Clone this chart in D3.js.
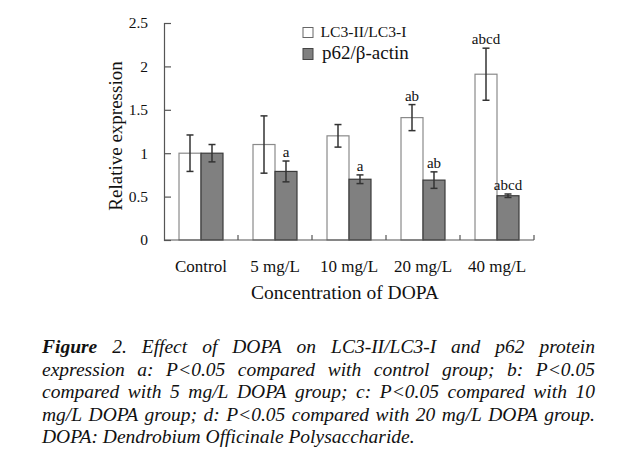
<!DOCTYPE html>
<html><head><meta charset="utf-8">
<script src="https://cdn.jsdelivr.net/npm/d3@7/dist/d3.min.js"></script>
<style>
body{margin:0;background:#fff;}
svg{display:block;}
text{font-family:"Liberation Serif","Times New Roman",serif;fill:#111;}
</style></head><body>
<svg id="c" width="628" height="470"></svg>
<script>
const categories = ["Control","5 mg/L","10 mg/L","20 mg/L","40 mg/L"];
const seriesNames = ["LC3-II/LC3-I","p62/β-actin"];
const lc3Values = [1.00, 1.10, 1.20, 1.41, 1.91];
const lc3Errors = [0.21, 0.33, 0.13, 0.15, 0.30];
const p62Values = [1.00, 0.79, 0.70, 0.69, 0.51];
const p62Errors = [0.10, 0.12, 0.05, 0.095, 0.02];
const lc3Labels = ["", "", "", "ab", "abcd"];
const p62Labels = ["", "a", "a", "ab", "abcd"];
const yTicks = [0, 0.5, 1, 1.5, 2, 2.5];
const yTickLabels = ["0","0.5","1","1.5","2","2.5"];
const captionLines = [
  [{t:"Figure",b:true},{t:"2."},{t:"Effect"},{t:"of"},{t:"DOPA"},{t:"on"},{t:"LC3-II/LC3-I"},{t:"and"},{t:"p62"},{t:"protein"}],
  "expression a: P<0.05 compared with control group; b: P<0.05",
  "compared with 5 mg/L DOPA group; c: P<0.05 compared with 10",
  "mg/L DOPA group; d: P<0.05 compared with 20 mg/L DOPA group.",
  "DOPA: Dendrobium Officinale Polysaccharide."
];

const svg = d3.select("#c");
const L = 164, R = 534, T = 23, B = 240;
const x0 = d3.scaleBand().domain(categories).range([L, R]);
const x1 = d3.scaleBand().domain(seriesNames).range([0, x0.bandwidth()]).paddingOuter(0.682);
const y = d3.scaleLinear().domain([0, 2.5]).range([B, T]);

const data = categories.map((c,i)=>[
  {c, s:seriesNames[0], v:lc3Values[i], e:lc3Errors[i], lab:lc3Labels[i]},
  {c, s:seriesNames[1], v:p62Values[i], e:p62Errors[i], lab:p62Labels[i]}
]).flat();

const fills = {"LC3-II/LC3-I":"#ffffff","p62/β-actin":"#808080"};
const strokes = {"LC3-II/LC3-I":"#8a8a8a","p62/β-actin":"#3a3a3a"};

// bars
svg.append("g").selectAll("rect").data(data).join("rect")
  .attr("x", d=>x0(d.c)+x1(d.s))
  .attr("y", d=>y(d.v))
  .attr("width", x1.bandwidth())
  .attr("height", d=>B - y(d.v))
  .attr("fill", d=>fills[d.s])
  .attr("stroke", d=>strokes[d.s])
  .attr("stroke-width", 1.2);

// error bars
const eg = svg.append("g").attr("stroke","#333").attr("stroke-width",1.5);
data.forEach(d=>{
  const cx = x0(d.c)+x1(d.s)+x1.bandwidth()/2;
  eg.append("line").attr("x1",cx).attr("x2",cx).attr("y1",y(d.v+d.e)).attr("y2",y(d.v-d.e));
  eg.append("line").attr("x1",cx-3.5).attr("x2",cx+3.5).attr("y1",y(d.v+d.e)).attr("y2",y(d.v+d.e));
  eg.append("line").attr("x1",cx-3.5).attr("x2",cx+3.5).attr("y1",y(d.v-d.e)).attr("y2",y(d.v-d.e));
});

// significance labels
svg.append("g").selectAll("text").data(data.filter(d=>d.lab)).join("text")
  .attr("x", d=>x0(d.c)+x1(d.s)+x1.bandwidth()/2)
  .attr("y", d=>y(d.v+d.e)-4)
  .attr("text-anchor","middle")
  .attr("font-size",15)
  .text(d=>d.lab);

// y axis
const yAxis = d3.axisLeft(y).tickValues(yTicks).tickFormat((d,i)=>yTickLabels[i]).tickSize(-7).tickPadding(16);
const ya = svg.append("g").attr("transform",`translate(${L},0)`).call(yAxis);
ya.select(".domain").attr("stroke","#555").attr("stroke-width",1.2);
ya.selectAll(".tick line").attr("stroke","#555").attr("stroke-width",1.2);
ya.selectAll(".tick text").attr("font-size",15.5).attr("font-family","Liberation Serif").attr("fill","#111");

// x axis
const xa = svg.append("g");
xa.append("line").attr("x1",L).attr("x2",R).attr("y1",B).attr("y2",B).attr("stroke","#555").attr("stroke-width",1.2);
xa.selectAll("line.tk").data(categories).join("line").attr("class","tk")
  .attr("x1",d=>x0(d)+x0.bandwidth()).attr("x2",d=>x0(d)+x0.bandwidth())
  .attr("y1",B).attr("y2",B-5).attr("stroke","#555").attr("stroke-width",1.2);
xa.selectAll("text").data(categories).join("text")
  .attr("x",d=>x0(d)+x0.bandwidth()/2).attr("y",272)
  .attr("text-anchor","middle").attr("font-size",17).text(d=>d);

// axis titles
svg.append("text").attr("x",(L+R)/2-4).attr("y",299).attr("text-anchor","middle")
  .attr("font-size",19.5).text("Concentration of DOPA");
svg.append("text").attr("transform","translate(122,136) rotate(-90)").attr("text-anchor","middle")
  .attr("font-size",19).text("Relative expression");

// legend
const lg = svg.append("g");
lg.append("rect").attr("x",303).attr("y",27.5).attr("width",10).attr("height",10)
  .attr("fill",fills[seriesNames[0]]).attr("stroke","#666");
lg.append("text").attr("x",320.5).attr("y",37).attr("font-size",14)
  .attr("textLength",86).attr("lengthAdjust","spacingAndGlyphs").text(seriesNames[0]);
lg.append("rect").attr("x",303).attr("y",48.5).attr("width",10).attr("height",11)
  .attr("fill",fills[seriesNames[1]]).attr("stroke","#444");
lg.append("text").attr("x",322).attr("y",58.5).attr("font-size",19).text(seriesNames[1]);

// caption (justified)
const capL = 42, capR = 595, capTop = 353, lh = 22.5, capFs = 19.5;
const cg = svg.append("g").attr("font-size",capFs).attr("font-style","italic");
captionLines.forEach((line,li)=>{
  const words = typeof line === "string" ? line.split(" ").map(t=>({t})) : line;
  const yy = capTop + li*lh;
  const nodes = words.map(w=>{
    const n = cg.append("text").attr("y",yy).text(w.t);
    if (w.b) n.attr("font-weight","bold");
    return n;
  });
  const widths = nodes.map(n=>n.node().getComputedTextLength());
  const total = d3.sum(widths);
  const justify = li < captionLines.length-1;
  const gap = justify ? (capR-capL-total)/(words.length-1) : capFs*0.25;
  let xx = capL;
  nodes.forEach((n,i)=>{ n.attr("x",xx); xx += widths[i]+gap; });
});
</script>
</body></html>
